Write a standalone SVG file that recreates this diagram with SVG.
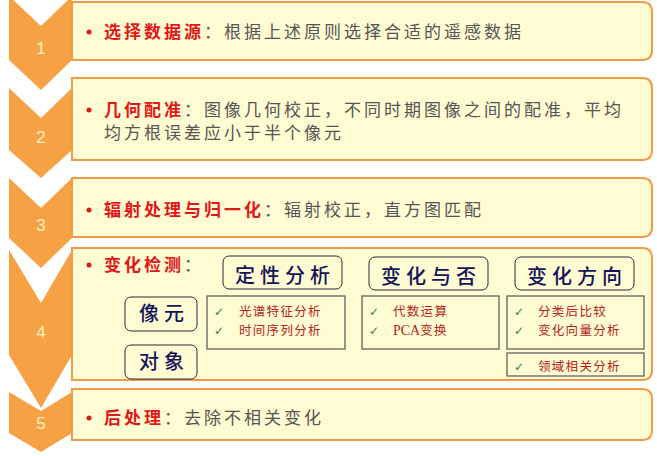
<svg xmlns="http://www.w3.org/2000/svg" width="657" height="456" viewBox="0 0 657 456">
<style>
.chev{fill:#F7A145}
.num{font-family:"Liberation Sans",Arial,sans-serif;font-size:17px;fill:#FFF0C4;text-anchor:middle}
.box{fill:#FFFBD2;stroke:#F39A48;stroke-width:2}
.main{font-family:"Noto Sans CJK SC",sans-serif;font-size:17px;letter-spacing:3px;fill:#555555}
.red{fill:#E01818;font-weight:bold}
.dot{fill:#E01818}
.tag{fill:#FFFBD2;stroke:#2A2A3A;stroke-width:1}
.tagt{font-family:"Noto Sans CJK SC",sans-serif;font-size:20px;font-weight:500;fill:#14145A;text-anchor:middle;letter-spacing:5px}
.lst{fill:#FFFBD2;stroke:#555555;stroke-width:1.2}
.chk{font-family:"DejaVu Sans",sans-serif;font-size:12px;fill:#2E7D4F}
.it{font-family:"Noto Sans CJK SC",sans-serif;font-size:12.5px;letter-spacing:1.3px;fill:#B5221C}
.rom{font-family:"Liberation Serif",serif;font-size:14px;letter-spacing:0}
</style>
<g id="step1">
<path class="chev" d="M9,-4 L41,26 L72,-4 L72,60 L41,90 L9,60 Z"/>
<path class="box" d="M72,2 H642 Q652,2 652,12 V50 Q652,60 642,60 H72 Z"/>
<text class="num" x="41" y="54">1</text>
<circle class="dot" cx="89" cy="32" r="2.5"/>
<text class="main" x="104" y="38"><tspan class="red">选择数据源</tspan>：根据上述原则选择合适的遥感数据</text>
</g>
<g id="step2">
<path class="chev" d="M9,88 L41,118 L72,88 L72,150 L41,178 L9,150 Z"/>
<path class="box" d="M72,78 H642 Q652,78 652,88 V150 Q652,160 642,160 H72 Z"/>
<text class="num" x="41" y="143">2</text>
<circle class="dot" cx="89" cy="110" r="2.5"/>
<text class="main" x="104" y="116"><tspan class="red">几何配准</tspan>：图像几何校正，不同时期图像之间的配准，平均</text>
<text class="main" x="104" y="139">均方根误差应小于半个像元</text>
</g>
<g id="step3">
<path class="chev" d="M9,178 L41,208 L72,178 L72,238 L41,268 L9,238 Z"/>
<path class="box" d="M72,178 H642 Q652,178 652,188 V227 Q652,237 642,237 H72 Z"/>
<text class="num" x="41" y="231">3</text>
<circle class="dot" cx="89" cy="210" r="2.5"/>
<text class="main" x="104" y="216"><tspan class="red">辐射处理与归一化</tspan>：辐射校正，直方图匹配</text>
</g>
<g id="step4">
<path class="chev" d="M9,250 L41,303 L72,250 L72,355 L41,408 L9,355 Z"/>
<path class="box" d="M72,248 H642 Q652,248 652,258 V370 Q652,380 642,380 H72 Z"/>
<text class="num" x="41" y="338">4</text>
<circle class="dot" cx="89" cy="265" r="2.5"/>
<text class="main" x="104" y="271"><tspan class="red">变化检测</tspan>：</text>
</g>
<g id="qual">
<rect class="tag" x="223" y="256" width="119" height="33" rx="6"/>
<text class="tagt" x="285" y="283">定性分析</text>
</g>
<g id="yesno">
<rect class="tag" x="369" y="257" width="119" height="33" rx="6"/>
<text class="tagt" x="431" y="284">变化与否</text>
</g>
<g id="direction">
<rect class="tag" x="515" y="257" width="119" height="33" rx="6"/>
<text class="tagt" x="577" y="284">变化方向</text>
</g>
<g id="pixel">
<rect class="tag" x="125" y="297" width="72" height="34" rx="6"/>
<text class="tagt" x="164" y="321">像元</text>
</g>
<g id="object">
<rect class="tag" x="125" y="345" width="72" height="34" rx="6"/>
<text class="tagt" x="164" y="369">对象</text>
</g>
<g id="listA">
<rect class="lst" x="207" y="296" width="138" height="53"/>
<text class="chk" x="214" y="316">✓</text>
<text class="it" x="239" y="316">光谱特征分析</text>
<text class="chk" x="214" y="335">✓</text>
<text class="it" x="239" y="335">时间序列分析</text>
</g>
<g id="listB">
<rect class="lst" x="362" y="296" width="137" height="53"/>
<text class="chk" x="369" y="316">✓</text>
<text class="it" x="393" y="316">代数运算</text>
<text class="chk" x="369" y="335">✓</text>
<text class="it" x="393" y="335"><tspan class="rom">PCA</tspan>变换</text>
</g>
<g id="listC">
<rect class="lst" x="507" y="296" width="137" height="53"/>
<text class="chk" x="514" y="316">✓</text>
<text class="it" x="538" y="316">分类后比较</text>
<text class="chk" x="514" y="335">✓</text>
<text class="it" x="538" y="335">变化向量分析</text>
</g>
<g id="listD">
<rect class="lst" x="507" y="353" width="137" height="23"/>
<text class="chk" x="514" y="371">✓</text>
<text class="it" x="538" y="371">领域相关分析</text>
</g>
<g id="step5">
<path class="chev" d="M9,392 L41,411 L72,392 L72,433 L41,452 L9,433 Z"/>
<path class="box" d="M72,389 H642 Q652,389 652,399 V430 Q652,440 642,440 H72 Z"/>
<text class="num" x="41" y="429">5</text>
<circle class="dot" cx="89" cy="418" r="2.5"/>
<text class="main" x="104" y="424"><tspan class="red">后处理</tspan>：去除不相关变化</text>
</g>
<g id="connectors"></g>
</svg>
